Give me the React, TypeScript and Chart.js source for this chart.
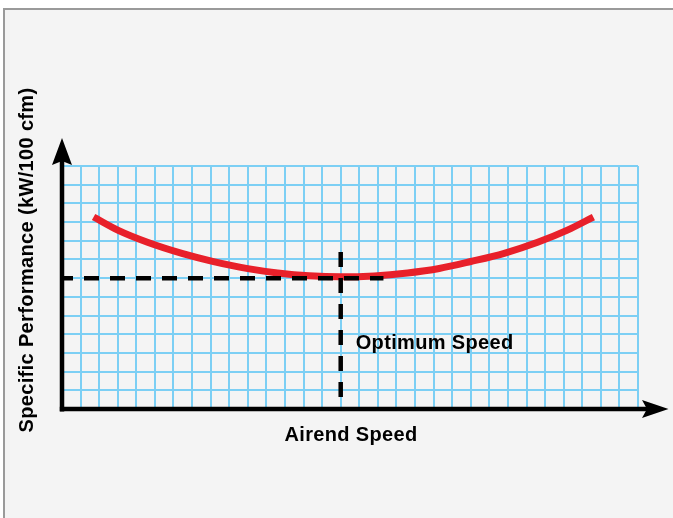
import React, { useEffect, useRef } from "react";
import { Chart, registerables } from "chart.js";

Chart.register(...registerables);

// Axis ranges (grid cells)
const xRange = [0, 31];
const yRange = [0, 13];

// Performance curve (grid units)
const curveX = [1.7, 3, 4.6, 6.5, 8.1, 10, 11.6, 13.3, 15, 16.8, 18.6, 20.3, 22, 23.8, 25.6, 27.2, 28.6];
const curveY = [10.27, 9.57, 8.92, 8.31, 7.9, 7.51, 7.28, 7.125, 7.07, 7.12, 7.28, 7.52, 7.89, 8.33, 8.92, 9.57, 10.27];

// Optimum markers
const optimumX = 15;
const optimumY = 7;
const hLineEndX = 17.3;
const vLineTopY = 8.4;

const labels = {
  x: "Airend Speed",
  y: "Specific Performance (kW/100 cfm)",
  optimum: "Optimum Speed",
};

const overlay = {
  id: "overlay",
  afterDraw(chart: any) {
    const ctx = chart.ctx as CanvasRenderingContext2D;
    const xs = chart.scales.x;
    const ys = chart.scales.y;
    const x0 = xs.getPixelForValue(xRange[0]);
    const x1 = xs.getPixelForValue(xRange[1]);
    const y0 = ys.getPixelForValue(yRange[0]);
    const y1 = ys.getPixelForValue(yRange[1]);
    ctx.save();
    ctx.fillStyle = "#000";
    ctx.strokeStyle = "#000";
    ctx.lineWidth = 4.5;
    ctx.lineCap = "butt";
    // y axis
    ctx.beginPath();
    ctx.moveTo(x0, y0 + 2.5);
    ctx.lineTo(x0, y1 - 8);
    ctx.stroke();
    // x axis
    ctx.beginPath();
    ctx.moveTo(x0 - 2.2, y0);
    ctx.lineTo(x1 + 16, y0);
    ctx.stroke();
    // y arrow head
    const ty = y1 - 28;
    ctx.beginPath();
    ctx.moveTo(x0, ty);
    ctx.lineTo(x0 + 10, y1 - 1);
    ctx.lineTo(x0, y1 - 5);
    ctx.lineTo(x0 - 10, y1 - 1);
    ctx.closePath();
    ctx.fill();
    // x arrow head
    const tx = x1 + 30.5;
    ctx.beginPath();
    ctx.moveTo(tx, y0);
    ctx.lineTo(x1 + 4, y0 - 9);
    ctx.lineTo(x1 + 9, y0);
    ctx.lineTo(x1 + 4, y0 + 9);
    ctx.closePath();
    ctx.fill();

    // texts
    ctx.fillStyle = "#000";
    ctx.font = 'bold 20px "Liberation Sans", Arial, sans-serif';
    (ctx as any).letterSpacing = "0.35px";
    ctx.textBaseline = "middle";
    ctx.textAlign = "left";
    ctx.fillText(labels.optimum, xs.getPixelForValue(optimumX) + 15, ys.getPixelForValue(3.5));
    ctx.textAlign = "center";
    ctx.fillText(labels.x, (x0 + x1) / 2 + 1, y0 + 26);
    ctx.save();
    ctx.translate(27, 260);
    ctx.rotate(-Math.PI / 2);
    ctx.fillText(labels.y, 0, 0);
    ctx.restore();
    ctx.restore();
  },
};

export default function App() {
  const ref = useRef<HTMLCanvasElement | null>(null);
  useEffect(() => {
    if (!ref.current) return;
    const chart = new Chart(ref.current, {
      type: "line",
      data: {
        datasets: [
          {
            data: [
              { x: xRange[0], y: optimumY },
              { x: hLineEndX, y: optimumY },
            ],
            borderColor: "#000",
            borderWidth: 4.5,
            borderDash: [15, 11],
            borderDashOffset: 4,
            pointRadius: 0,
            tension: 0,
          },
          {
            data: [
              { x: optimumX, y: vLineTopY },
              { x: optimumX, y: yRange[0] },
            ],
            borderColor: "#000",
            borderWidth: 4.5,
            borderDash: [15, 11],
            pointRadius: 0,
            tension: 0,
          },
          {
            data: curveX.map((x, i) => ({ x, y: curveY[i] })),
            borderColor: "#e8202a",
            borderWidth: 7,
            borderCapStyle: "butt",
            pointRadius: 0,
            cubicInterpolationMode: "monotone",
          },
        ],
      },
      options: {
        responsive: false,
        animation: false,
        events: [],
        layout: { padding: { left: 62, top: 166, right: 35, bottom: 109 } },
        plugins: { legend: { display: false }, tooltip: { enabled: false } },
        scales: {
          x: {
            type: "linear",
            min: xRange[0],
            max: xRange[1],
            ticks: { display: false, stepSize: 1 },
            grid: { color: "#7ccff4", lineWidth: 2, drawTicks: false },
            border: { display: false },
          },
          y: {
            type: "linear",
            min: yRange[0],
            max: yRange[1],
            ticks: { display: false, stepSize: 1 },
            grid: { color: "#7ccff4", lineWidth: 2, drawTicks: false },
            border: { display: false },
          },
        },
      },
      plugins: [overlay],
    });
    return () => chart.destroy();
  }, []);
  return (
    <div style={{ position: "fixed", left: 0, top: 0, width: 673, height: 518, background: "#fff", overflow: "hidden" }}>
      <div
        style={{
          position: "absolute",
          left: 3,
          top: 8,
          right: -10,
          bottom: -10,
          background: "#f4f4f4",
          borderTop: "2.5px solid #9a9a9a",
          borderLeft: "2.5px solid #9a9a9a",
        }}
      />
      <canvas ref={ref} width={673} height={518} style={{ position: "absolute", left: 0, top: 0 }} />
    </div>
  );
}
